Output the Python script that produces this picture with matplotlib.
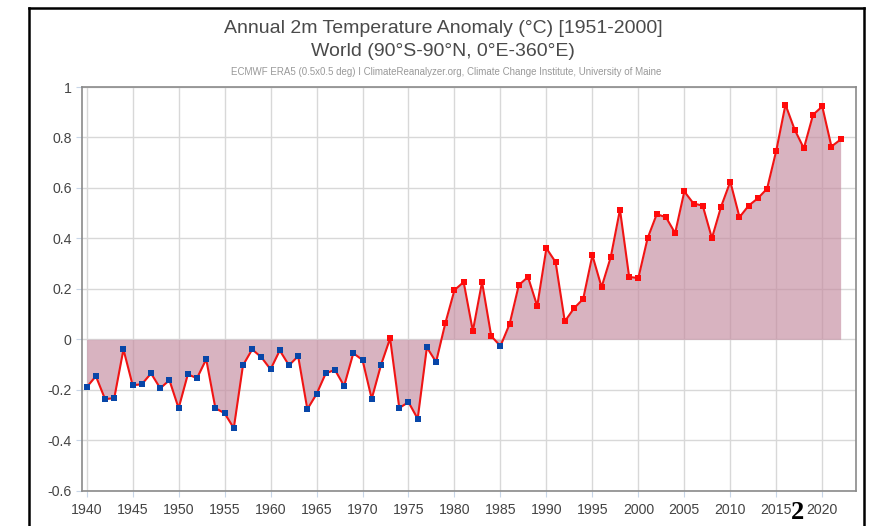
import numpy as np
import matplotlib as mpl
mpl.use('Agg')
import matplotlib.pyplot as plt

plt.rcParams['font.family'] = ['Liberation Sans', 'DejaVu Sans']

years = list(range(1940, 2023))
anom = [-0.190, -0.146, -0.237, -0.233, -0.040, -0.182, -0.178, -0.135, -0.194, -0.162,
        -0.273, -0.139, -0.154, -0.079, -0.273, -0.293, -0.352, -0.103, -0.040, -0.071,
        -0.119, -0.044, -0.103, -0.067, -0.277, -0.217, -0.135, -0.121, -0.185, -0.055,
        -0.082, -0.236, -0.103, 0.004, -0.272, -0.249, -0.315, -0.032, -0.090, 0.063,
        0.195, 0.227, 0.033, 0.227, 0.013, -0.027, 0.061, 0.215, 0.247, 0.132,
        0.361, 0.306, 0.071, 0.123, 0.160, 0.333, 0.207, 0.326, 0.514, 0.247,
        0.243, 0.400, 0.496, 0.484, 0.421, 0.586, 0.538, 0.530, 0.401, 0.526,
        0.625, 0.484, 0.530, 0.559, 0.597, 0.748, 0.930, 0.831, 0.757, 0.890,
        0.923, 0.764, 0.792]

title1 = "Annual 2m Temperature Anomaly (°C) [1951-2000]"
title2 = "World (90°S-90°N, 0°E-360°E)"
source = "ECMWF ERA5 (0.5x0.5 deg) I ClimateReanalyzer.org, Climate Change Institute, University of Maine"

x = np.array(years)
y = np.array(anom)

fig = plt.figure(figsize=(8.74, 5.26), dpi=100)
ax = fig.add_axes([0.0938, 0.0671, 0.8856, 0.7675])

ax.fill_between(x, 0, y, color='#c48a9f', alpha=0.65, linewidth=0, zorder=2)
ax.plot(x, y, color='#f01414', lw=1.5, zorder=3)
pos = y >= 0
ax.plot(x[pos], y[pos], 's', color='#ff0a0a', ms=4.3, mew=0, zorder=4)
ax.plot(x[~pos], y[~pos], 's', color='#0846a8', ms=4.3, mew=0, zorder=4)

ax.set_xlim(1939.49, 2023.67)
ax.set_ylim(-0.6, 1.0)
ax.set_xticks(range(1940, 2021, 5))
ax.set_yticks(np.arange(-0.6, 1.01, 0.2))
ax.set_yticklabels(['-0.6', '-0.4', '-0.2', '0', '0.2', '0.4', '0.6', '0.8', '1'])
ax.grid(True, color='#d8d8d8', lw=1.0, zorder=0)
ax.set_axisbelow(True)
for s in ax.spines.values():
    s.set_color('#8a8a8a')
    s.set_linewidth(1.2)
ax.tick_params(colors='#c8d6e8', labelcolor='#444444', labelsize=10.2, length=4, width=0.8)
ax.tick_params(axis='x', pad=5)

fig.text(0.507, 0.946, title1, ha='center', va='center', fontsize=14, color='#4a4a4a')
fig.text(0.507, 0.903, title2, ha='center', va='center', fontsize=14, color='#4a4a4a')
fig.text(0.510, 0.864, source, ha='center', va='center', fontsize=7, color='#999999')

# outer black frame (cropped screenshot)
fig.add_artist(plt.Line2D([29/874, 864/874], [1 - 8/526, 1 - 8/526], color='black', lw=1.8))
fig.add_artist(plt.Line2D([29/874, 29/874], [0, 1 - 8/526], color='black', lw=1.8))
fig.add_artist(plt.Line2D([864/874, 864/874], [0, 1 - 8/526], color='black', lw=1.8))
fig.text(798/874, 0.004, "2", ha='center', va='bottom', fontsize=19, fontweight='bold',
         family='Liberation Serif', color='black')

plt.savefig('out.png', dpi=100)
